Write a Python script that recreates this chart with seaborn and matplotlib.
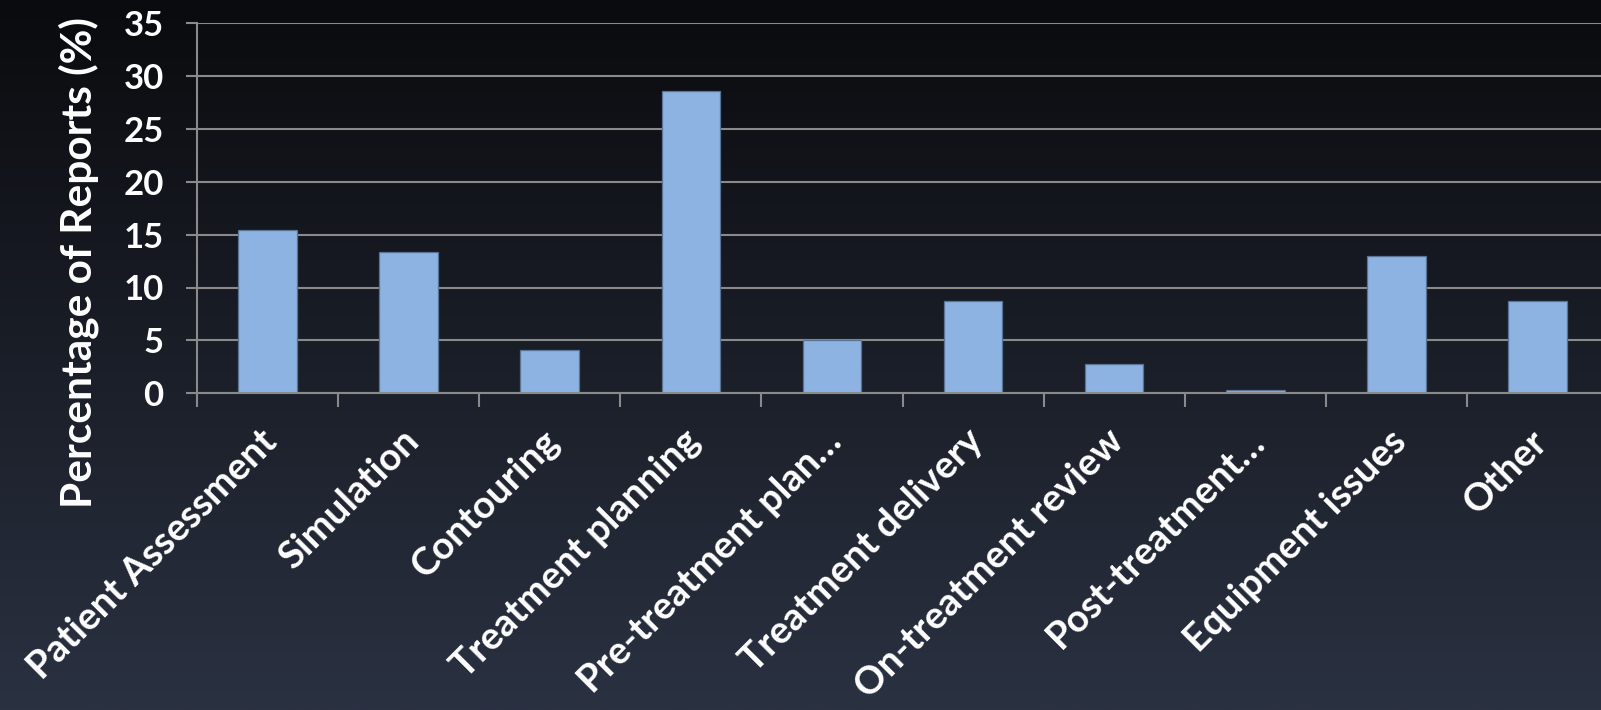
import numpy as np
import pandas as pd
import matplotlib
matplotlib.use("Agg")
import matplotlib.pyplot as plt
import matplotlib.transforms as mtransforms
from matplotlib import font_manager
import seaborn as sns

# Share of incident reports by process step where the error originated
categories = ["Patient Assessment", "Simulation", "Contouring", "Treatment planning",
              "Pre-treatment plan\u2026", "Treatment delivery", "On-treatment review",
              "Post-treatment\u2026", "Equipment issues", "Other"]
percentages = [15.4, 13.4, 4.1, 28.6, 5.0, 8.7, 2.8, 0.3, 13.0, 8.7]
y_ticks = [0, 5, 10, 15, 20, 25, 30, 35]
y_label = "Percentage of Reports (%)"

sns.set_theme(style="white")

# pick a humanist sans that ships a real bold face
family = "DejaVu Sans"
for cand in ["Lato", "Open Sans", "Noto Sans", "Roboto"]:
    faces = [f for f in font_manager.fontManager.ttflist if f.name == cand]
    if any((isinstance(f.weight, int) and f.weight >= 600) or str(f.weight) in ("bold", "semibold", "demibold", "heavy", "black")
           for f in faces):
        family = cand
        break
plt.rcParams["font.family"] = [family, "DejaVu Sans"]
plt.rcParams["font.weight"] = "bold"

W, H = 1601, 710
fig = plt.figure(figsize=(W / 100, H / 100), dpi=100)

# dark vertical gradient backdrop
bg = fig.add_axes([0, 0, 1, 1], zorder=0)
top = np.array([10, 11, 14]) / 255
bottom = np.array([42, 49, 65]) / 255
t = np.linspace(0, 1, 256)[:, None, None]
grad = top * (1 - t) + bottom * t
bg.imshow(grad, aspect="auto", extent=[0, 1, 0, 1], origin="upper")
bg.set_axis_off()

left_px, right_px, top_px, base_px = 197, 1608, 23, 393.3
ax = fig.add_axes([left_px / W, (H - base_px) / H,
                   (right_px - left_px) / W, (base_px - top_px) / H], zorder=1)
ax.patch.set_alpha(0)

df = pd.DataFrame({"category": categories, "pct": percentages})
sns.barplot(data=df, x="category", y="pct", ax=ax, color="#8DB3E2", saturation=1,
            width=0.415, edgecolor="#5A7394", linewidth=0.9, zorder=3)

grid_col = "#8A8A8A"
ax.set_ylim(0, 35)
ax.set_xlim(-0.5, len(categories) - 0.5)
ax.set_yticks(y_ticks)
ax.yaxis.grid(True, color=grid_col, linewidth=1.5, zorder=0)
ax.xaxis.grid(False)
for s in ["top", "right"]:
    ax.spines[s].set_visible(False)
for s in ["left", "bottom"]:
    ax.spines[s].set_color(grid_col)
    ax.spines[s].set_linewidth(1.5)
    ax.spines[s].set_zorder(4)

ax.tick_params(axis="y", length=8, width=1.5, color=grid_col, colors="white",
               labelsize=25, pad=16, left=True)
ax.set_xticks(range(len(categories)))
ax.set_xticks(np.arange(-0.5, len(categories), 1.0), minor=True)
ax.tick_params(axis="x", which="major", length=0, pad=22, labelsize=27.5, colors="white")
ax.tick_params(axis="x", which="minor", length=10, width=1.5, color=grid_col, bottom=True)
for lab in ax.get_yticklabels():
    lab.set_fontweight("bold")
ax.set_xticklabels(categories, rotation=45, ha="right", rotation_mode="anchor",
                   fontweight="bold", color="white")
shift = mtransforms.ScaledTranslation(-8 / 100, 0, fig.dpi_scale_trans)
for lab in ax.get_xticklabels():
    lab.set_transform(lab.get_transform() + shift)

ax.set_xlabel("")
ax.set_ylabel("")
fig.text(79 / W, 1 - 263 / H, y_label, rotation=90, ha="center", va="center",
         fontsize=30.5, fontweight="bold", color="white")

fig.savefig("out.png", dpi=100)
